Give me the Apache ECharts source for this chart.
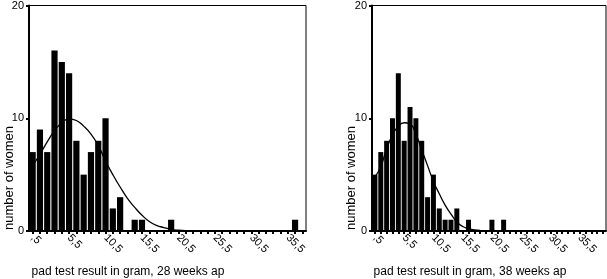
<!DOCTYPE html>
<html>
<head>
<meta charset="utf-8">
<script src="https://cdn.jsdelivr.net/npm/echarts@6.0.0/dist/echarts.min.js"></script>
<style>
  html, body { margin: 0; padding: 0; background: #fff; }
  #chart { width: 607px; height: 279px; }
</style>
</head>
<body>
<div id="chart"></div>
<script>
// bin labels (gram, bin centres)
var binLabels = [",5", "1,5", "2,5", "3,5", "4,5", "5,5", "6,5", "7,5", "8,5", "9,5",
  "10,5", "11,5", "12,5", "13,5", "14,5", "15,5", "16,5", "17,5", "18,5", "19,5",
  "20,5", "21,5", "22,5", "23,5", "24,5", "25,5", "26,5", "27,5", "28,5", "29,5",
  "30,5", "31,5", "32,5", "33,5", "34,5", "35,5", "36,5", "37,5", "38,5", "39,5"];

// 28 weeks
var leftCats = binLabels.slice(0, 38);
var leftCounts = [7, 9, 7, 16, 15, 14, 8, 5, 7, 8, 10, 2, 3, 0, 1, 1, 0, 0, 0, 1,
  0, 0, 0, 0, 0, 0, 0, 0, 0, 0, 0, 0, 0, 0, 0, 0, 1, 0];
var leftCurve = [5.8, 6.8, 7.9, 8.9, 9.6, 9.95, 9.8, 9.3, 8.6, 7.6, 6.2, 5.0, 3.9,
  2.9, 2.1, 1.4, 0.85, 0.5, 0.3, 0.15, 0.07, 0.03];

// 38 weeks
var rightCats = binLabels.slice(0, 40);
var rightCounts = [5, 7, 8, 10, 14, 8, 11, 10, 8, 3, 5, 2, 1, 1, 2, 0, 1, 0, 0, 0,
  1, 0, 1, 0, 0, 0, 0, 0, 0, 0, 0, 0, 0, 0, 0, 0, 0, 0, 0, 0];
var rightCurve = [4.8, 5.7, 7.3, 8.5, 9.3, 9.6, 9.5, 8.6, 7.2, 5.8, 4.4, 3.3, 2.3,
  1.5, 0.8, 0.4, 0.2, 0.1, 0.05];

var yTicks = [0, 10, 20];
var xTitles = ["pad test result in gram, 28 weeks ap", "pad test result in gram, 38 weeks ap"];
var yTitle = "number of women";

var font = "Liberation Sans, Arial, sans-serif";

function makeX(idx, cats) {
  return {
    type: "category",
    gridIndex: idx,
    data: cats,
    boundaryGap: true,
    axisLine: { lineStyle: { color: "#000", width: 2 } },
    axisTick: { show: true, alignWithLabel: true, interval: 0, length: 3, lineStyle: { color: "#000", width: 2 } },
    axisLabel: { interval: 4, rotate: -45, margin: 5, color: "#000", fontSize: 11, fontFamily: font },
    splitLine: { show: false },
  };
}

function makeY(idx) {
  return {
    type: "value",
    gridIndex: idx,
    min: yTicks[0],
    max: yTicks[yTicks.length - 1],
    interval: 10,
    axisLine: { show: true, lineStyle: { color: "#000", width: 2 } },
    axisTick: { show: true, length: 3, lineStyle: { color: "#000", width: 2 } },
    axisLabel: { margin: 5, color: "#000", fontSize: 11, fontFamily: font },
    splitLine: { show: false },
  };
}

var chart = echarts.init(document.getElementById("chart"));
var option = {
  backgroundColor: "#fff",
  animation: false,
  grid: [
    { left: 29, top: 3, width: 277, height: 228, show: true, borderColor: "#000", borderWidth: 1 },
    { left: 372, top: 4, width: 234, height: 227, show: true, borderColor: "#000", borderWidth: 1 },
  ],
  xAxis: [makeX(0, leftCats), makeX(1, rightCats)],
  yAxis: [makeY(0), makeY(1)],
  series: [
    {
      type: "bar", xAxisIndex: 0, yAxisIndex: 0, data: leftCounts,
      barCategoryGap: "15%", itemStyle: { color: "#000" },
    },
    {
      type: "line", xAxisIndex: 0, yAxisIndex: 0, data: leftCurve,
      smooth: true, symbol: "none", lineStyle: { color: "#000", width: 1.3 }, z: 3,
    },
    {
      type: "bar", xAxisIndex: 1, yAxisIndex: 1, data: rightCounts,
      barCategoryGap: "15%", itemStyle: { color: "#000" },
    },
    {
      type: "line", xAxisIndex: 1, yAxisIndex: 1, data: rightCurve,
      smooth: true, symbol: "none", lineStyle: { color: "#000", width: 1.3 }, z: 3,
    },
  ],
  graphic: [
    { type: "text", x: 9, y: 178, rotation: Math.PI / 2,
      style: { text: yTitle, fill: "#000", font: "13px " + font, textAlign: "center", textVerticalAlign: "middle" } },
    { type: "text", x: 351, y: 178, rotation: Math.PI / 2,
      style: { text: yTitle, fill: "#000", font: "13px " + font, textAlign: "center", textVerticalAlign: "middle" } },
    { type: "text", x: 128, y: 272,
      style: { text: xTitles[0], fill: "#000", font: "12px " + font, textAlign: "center", textVerticalAlign: "middle" } },
    { type: "text", x: 470, y: 272,
      style: { text: xTitles[1], fill: "#000", font: "12px " + font, textAlign: "center", textVerticalAlign: "middle" } },
  ],
};
chart.setOption(option);
</script>
</body>
</html>
